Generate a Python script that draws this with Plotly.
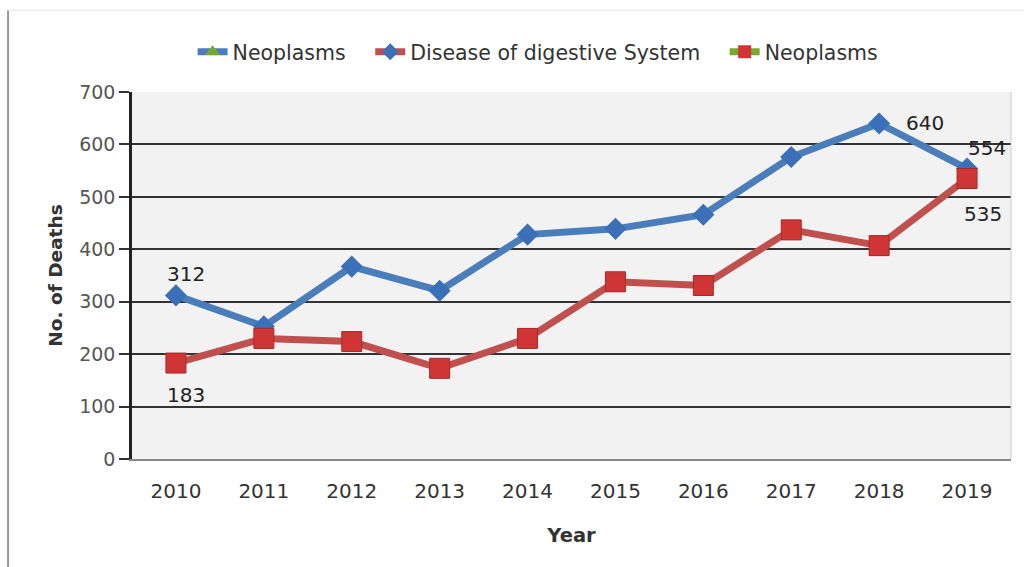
import plotly.graph_objects as go

years = ["2010", "2011", "2012", "2013", "2014", "2015", "2016", "2017", "2018", "2019"]
digestive = [312, 253, 367, 321, 428, 439, 466, 576, 640, 554]
neoplasms = [183, 230, 224, 173, 230, 338, 331, 437, 407, 535]
y_ticks = [0, 100, 200, 300, 400, 500, 600, 700]
# year indices of the points carrying a value label
digestive_labelled = [0, 8, 9]
neoplasms_labelled = [0, 9]

BLUE = "#4a7ebb"
BLUE_M = "#3a70b8"
RED = "#c0504d"
RED_M = "#cf3535"
GREEN = "#77a82f"
FONT = "DejaVu Sans"
PAD = "\u00a0\u00a0\u00a0"

fig = go.Figure()

fig.add_trace(go.Scatter(
    x=years, y=digestive, mode="lines+markers", showlegend=False,
    line=dict(color=BLUE, width=7),
    marker=dict(symbol="diamond", size=17, color=BLUE_M),
    cliponaxis=False,
))
fig.add_trace(go.Scatter(
    x=years, y=neoplasms, mode="lines+markers", showlegend=False,
    line=dict(color=RED, width=7),
    marker=dict(symbol="square", size=20, color=RED_M, line=dict(color="#a82828", width=1)),
    cliponaxis=False,
))

# legend entries (as in the reference)
fig.add_trace(go.Scatter(x=[None], y=[None], mode="lines+markers", name="Neoplasms" + PAD,
                         line=dict(color=BLUE, width=7),
                         marker=dict(symbol="triangle-up", size=13, color=GREEN)))
fig.add_trace(go.Scatter(x=[None], y=[None], mode="lines+markers", name="Disease of digestive System" + PAD,
                         line=dict(color=RED, width=7),
                         marker=dict(symbol="diamond", size=13, color=BLUE_M)))
fig.add_trace(go.Scatter(x=[None], y=[None], mode="lines+markers", name="Neoplasms",
                         line=dict(color=GREEN, width=7),
                         marker=dict(symbol="square", size=13, color=RED_M)))

# value labels (x given as category index)
label_offsets_d = {0: (10, 21), 8: (46, 0), 9: (20, 21)}
label_offsets_n = {0: (10, -32), 9: (16, -35)}
annotations = []
for i in digestive_labelled:
    dx, dy = label_offsets_d[i]
    annotations.append(dict(x=i, y=digestive[i], text=str(digestive[i]), showarrow=False,
                            xshift=dx, yshift=dy, font=dict(family=FONT, size=20, color="#222")))
for i in neoplasms_labelled:
    dx, dy = label_offsets_n[i]
    annotations.append(dict(x=i, y=neoplasms[i], text=str(neoplasms[i]), showarrow=False,
                            xshift=dx, yshift=dy, font=dict(family=FONT, size=20, color="#222")))

fig.update_layout(
    width=1024, height=567,
    margin=dict(l=132, r=13, t=92, b=108),
    paper_bgcolor="white",
    plot_bgcolor="#f2f2f2",
    font=dict(family=FONT, size=16, color="#404040"),
    annotations=annotations,
    legend=dict(orientation="h", x=0.462, xanchor="center", y=1.109, yref="paper",
                yanchor="middle", font=dict(family=FONT, size=20.5, color="#333"),
                itemwidth=30, traceorder="normal", bgcolor="rgba(0,0,0,0)"),
    xaxis=dict(
        type="category", categoryorder="array", categoryarray=years,
        range=[-0.5, len(years) - 0.5],
        showgrid=False, showline=True, linecolor="#888", linewidth=1.5,
        ticks="", ticklabelstandoff=13,
        tickfont=dict(family=FONT, size=20, color="#333"),
        title=dict(text="<b>Year</b>", font=dict(family=FONT, size=19.5, color="#333"), standoff=27),
        fixedrange=True,
    ),
    yaxis=dict(
        range=[0, 700], tickvals=y_ticks, ticktext=[str(v) for v in y_ticks],
        showgrid=True, gridcolor="#333", gridwidth=1.5,
        showline=True, linecolor="#222", linewidth=2.5,
        ticks="outside", ticklen=10, tickcolor="#333", tickwidth=1.5,
        tickfont=dict(family=FONT, size=19, color="#555"),
        title=dict(text="<b>No. of Deaths</b>", font=dict(family=FONT, size=18.5, color="#333"), standoff=12),
        zeroline=False, fixedrange=True,
    ),
)

# outer frame lines of the original image
fig.add_shape(type="line", xref="paper", yref="paper", x0=-0.141, x1=-0.141, y0=-0.3, y1=1.223,
              line=dict(color="#999", width=2))
fig.add_shape(type="line", xref="paper", yref="paper", x0=-0.141, x1=1.02, y0=1.223, y1=1.223,
              line=dict(color="#e6e6e6", width=1))
fig.add_shape(type="line", xref="paper", yref="paper", x0=1.0, x1=1.0, y0=0, y1=1,
              line=dict(color="#cccccc", width=1))

fig.write_html("out.html")
